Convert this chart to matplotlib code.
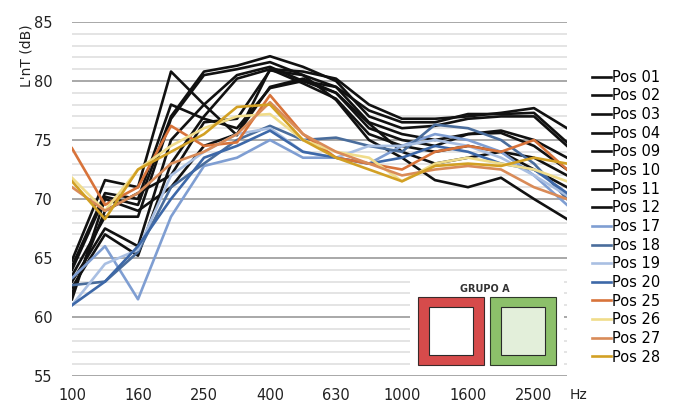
"""L'nT per position, grupo A."""
import matplotlib
matplotlib.use("Agg")
import matplotlib.pyplot as plt
from matplotlib.patches import Rectangle

freqs = ["100", "125", "160", "200", "250", "315", "400", "500",
         "630", "800", "1000", "1250", "1600", "2000", "2500", "3150"]

pos01 = [64.8, 71.6, 71.0, 80.8, 78.0, 75.4, 81.0, 80.8, 80.2, 78.0, 76.8, 76.8, 77.0, 77.3, 77.7, 76.0]
pos02 = [64.3, 70.5, 70.0, 78.0, 76.8, 76.0, 79.4, 80.0, 79.5, 77.5, 76.5, 76.5, 77.2, 77.2, 77.3, 74.8]
pos03 = [64.0, 70.2, 69.5, 77.0, 80.8, 81.3, 82.1, 81.2, 80.0, 77.0, 76.0, 76.2, 76.8, 77.0, 77.0, 74.5]
pos04 = [63.5, 68.5, 68.5, 76.8, 80.5, 81.0, 81.6, 80.5, 79.5, 76.5, 75.5, 75.0, 75.5, 75.8, 75.0, 73.5]
pos09 = [63.0, 67.5, 66.0, 75.0, 78.0, 80.5, 81.2, 80.0, 79.0, 76.0, 75.0, 74.5, 75.5, 75.6, 74.5, 72.5]
pos10 = [62.5, 67.0, 65.2, 73.0, 77.0, 80.2, 81.0, 79.8, 78.5, 75.5, 74.5, 74.0, 74.5, 74.0, 73.5, 72.0]
pos11 = [62.0, 69.0, 70.5, 72.0, 76.5, 76.8, 80.9, 80.5, 78.4, 75.0, 73.5, 71.6, 71.0, 71.8, 70.0, 68.3]
pos12 = [61.5, 70.0, 69.0, 71.0, 74.5, 75.5, 79.5, 80.2, 79.0, 76.4, 74.0, 73.0, 73.5, 74.0, 72.5, 71.0]
pos17 = [63.3, 66.0, 61.5, 68.5, 72.8, 73.5, 75.0, 73.5, 73.5, 73.0, 74.5, 75.5, 75.0, 74.0, 72.0, 69.5]
pos18 = [62.7, 63.0, 65.5, 71.0, 73.0, 75.0, 76.2, 75.0, 75.2, 74.5, 74.0, 76.3, 76.0, 75.0, 73.0, 70.0]
pos19 = [61.0, 64.5, 65.7, 72.0, 74.0, 75.5, 76.0, 74.0, 73.5, 74.5, 74.5, 75.0, 74.5, 73.5, 72.0, 70.3]
pos20 = [61.0, 63.0, 66.0, 70.0, 73.5, 74.5, 75.8, 74.0, 73.5, 73.0, 73.5, 74.5, 74.0, 73.0, 72.5, 70.5]
pos25 = [74.3, 69.5, 71.0, 76.2, 74.5, 74.8, 78.8, 75.5, 73.5, 73.0, 72.5, 74.0, 74.5, 74.0, 75.0, 72.5]
pos26 = [71.8, 69.0, 72.5, 74.5, 76.0, 77.0, 77.2, 75.0, 74.0, 73.5, 71.5, 73.0, 73.5, 73.0, 72.5, 71.5]
pos27 = [71.0, 69.0, 70.5, 73.0, 74.0, 75.5, 78.2, 75.5, 74.0, 73.0, 72.0, 72.5, 72.8, 72.5, 71.0, 70.0]
pos28 = [71.5, 68.3, 72.5, 74.0, 75.5, 77.8, 78.0, 75.0, 73.5, 72.5, 71.5, 72.8, 73.0, 72.8, 73.5, 73.0]

labels = ["Pos 01", "Pos 02", "Pos 03", "Pos 04", "Pos 09", "Pos 10", "Pos 11", "Pos 12",
          "Pos 17", "Pos 18", "Pos 19", "Pos 20", "Pos 25", "Pos 26", "Pos 27", "Pos 28"]
series = [pos01, pos02, pos03, pos04, pos09, pos10, pos11, pos12,
          pos17, pos18, pos19, pos20, pos25, pos26, pos27, pos28]
colors = ["#111111"] * 8 + ["#7f9ed2", "#4a6d9c", "#a9bfe2", "#3d68a8",
                            "#d8733a", "#f0dc8a", "#d98b58", "#d2a024"]

fig = plt.figure(figsize=(6.8, 4.04), dpi=100)
ax = fig.add_axes([72 / 680, 1 - 376 / 404, (567 - 72) / 680, (376 - 22) / 404])

x = list(range(len(freqs)))
for lab, vals, col in zip(labels, series, colors):
    ax.plot(x, vals, color=col, lw=1.9, label=lab, zorder=3)

ax.set_xlim(0, len(freqs) - 1)
ax.set_ylim(55, 85)
ax.set_yticks(range(55, 86, 5))
ax.set_yticks(range(55, 86, 1), minor=True)
ax.set_xticks(x[::2])
ax.set_xticklabels(freqs[::2])
ax.grid(axis="y", which="minor", color="#e4e4e4", lw=1.4, zorder=0)
ax.grid(axis="y", which="major", color="#9a9a9a", lw=1.2, zorder=1)
for s in ax.spines.values():
    s.set_visible(False)
ax.tick_params(which="both", length=0, labelsize=10.5, colors="#222222")
ax.tick_params(axis="x", pad=9)
ax.tick_params(axis="y", pad=14)

fig.text(26 / 680, 1 - 24 / 404, "L'nT (dB)", rotation=90, ha="center", va="top",
         fontsize=10, color="#222222")
fig.text(570 / 680, 1 - 395 / 404, "Hz", ha="left", va="center", fontsize=10, color="#222222")

leg = ax.legend(loc="upper left", bbox_to_anchor=(586 / 680, 1 - 64 / 404),
                bbox_transform=fig.transFigure, frameon=False, fontsize=10.5,
                handlelength=1.3, handletextpad=0.05, labelspacing=0.25, borderaxespad=0)

# inset "GRUPO A"
ov = fig.add_axes([0, 0, 1, 1], zorder=5)
ov.set_xlim(0, 680)
ov.set_ylim(404, 0)
ov.axis("off")
ov.add_patch(Rectangle((410, 279), 154, 95, facecolor="white", edgecolor="none"))
ov.add_patch(Rectangle((418, 297), 66, 68, facecolor="#d64b4b", edgecolor="#3a2a2a", lw=0.8))
ov.add_patch(Rectangle((429, 307), 44, 48, facecolor="white", edgecolor="#2a2a2a", lw=0.8))
ov.add_patch(Rectangle((490, 297), 66, 68, facecolor="#8cc06a", edgecolor="#2f3a2a", lw=0.8))
ov.add_patch(Rectangle((501, 307), 44, 48, facecolor="#e3efda", edgecolor="#2a2a2a", lw=0.8))
ov.text(485, 289, "GRUPO A", ha="center", va="center", fontsize=7, weight="bold", color="#333333")

fig.savefig("out.png", dpi=100)
